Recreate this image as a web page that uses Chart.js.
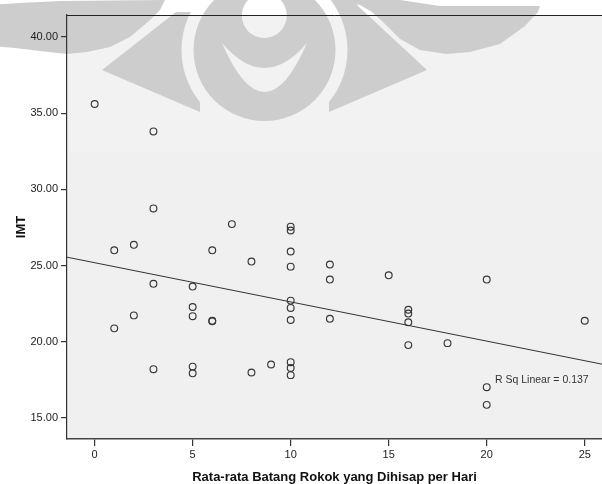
<!DOCTYPE html>
<html>
<head>
<meta charset="utf-8">
<script src="https://cdn.jsdelivr.net/npm/chart.js@4"></script>
<style>
  html, body { margin: 0; padding: 0; background: #ffffff; overflow: hidden; }
  #c { display: block; }
</style>
</head>
<body>
<canvas id="c" width="602" height="484"></canvas>
<script>
// ---- data ----
const cigarettes = [0, 3, 3, 7, 10, 10, 1, 2, 6, 8, 10, 10, 3, 5, 5, 5, 6, 6, 2, 1,
                    10, 10, 10, 3, 5, 5, 8, 9, 10, 10, 10, 12, 12, 12, 15, 16, 16, 16, 16, 18,
                    20, 20, 20, 25];
const imt = [35.6, 33.8, 28.75, 27.72, 27.55, 27.3, 26.0, 26.36, 26.0, 25.26, 25.92, 24.93, 23.8, 23.62, 22.28, 21.68, 21.38, 21.34, 21.73, 20.88,
             22.7, 22.22, 21.43, 18.2, 18.37, 17.93, 17.98, 18.51, 18.66, 18.28, 17.81, 25.07, 24.08, 21.51, 24.36, 22.1, 21.85, 21.28, 19.78, 19.91,
             24.08, 17.02, 15.86, 21.38];
const fitLineX = [-1.41, 25.88];
const fitLineY = [25.55, 18.53];
const xTickValues = [0, 5, 10, 15, 20, 25];
const yTickValues = [15, 20, 25, 30, 35, 40];
const xRange = [-1.41, 25.88];
const yRange = [13.62, 41.44];
const xTitle = 'Rata-rata Batang Rokok yang Dihisap per Hari';
const yTitle = 'IMT';
const rsqLabel = 'R Sq Linear = 0.137';
const rsqLabelAt = [20.42, 17.49];

// ---- build ----
const points = cigarettes.map((x, i) => ({ x: x, y: imt[i] }));
const fitLine = fitLineX.map((x, i) => ({ x: x, y: fitLineY[i] }));

Chart.defaults.font.family = "'Liberation Sans', Arial, sans-serif";
Chart.defaults.color = '#1a1a1a';

function poly(o, pts) {
  o.beginPath();
  o.moveTo(pts[0][0], pts[0][1]);
  for (let i = 1; i < pts.length; i++) o.lineTo(pts[i][0], pts[i][1]);
  o.closePath();
  o.fill();
}
function disk(o, x, y, r) {
  o.beginPath();
  o.arc(x, y, r, 0, Math.PI * 2);
  o.fill();
}

// background + faint watermark logo (decoration behind the chart)
const backdrop = {
  id: 'backdrop',
  beforeDraw(chart) {
    const ctx = chart.ctx;
    const a = chart.chartArea;
    ctx.save();
    ctx.fillStyle = '#ffffff';
    ctx.fillRect(0, 0, chart.width, chart.height);
    ctx.fillStyle = '#f0f0f0';
    ctx.fillRect(a.left, a.top, a.right - a.left, a.bottom - a.top);
    ctx.fillStyle = '#f2f2f2';
    ctx.fillRect(a.left, a.top, a.right - a.left, 137);

    const off = document.createElement('canvas');
    off.width = chart.width; off.height = chart.height;
    const o = off.getContext('2d');
    o.fillStyle = '#cdcdcd';
    // wings
    poly(o, [[-10, 5], [20, 3], [60, 1], [165, 0], [160, 10], [150, 20], [130, 37], [110, 47], [87, 52], [67, 54], [40, 51], [15, 48], [-10, 46]]);
    poly(o, [[340, 0], [400, 0], [440, 6], [540, 6], [538, 12], [525, 26], [500, 44], [470, 52], [446, 54], [420, 50], [400, 39], [383, 22], [372, 12], [360, 5]]);
    // triangles
    poly(o, [[102, 70], [176, 12], [200, 12], [200, 112]]);
    poly(o, [[427, 70], [358, 6], [354, 0], [329, 0], [329, 112]]);
    // gap ring
    o.globalCompositeOperation = 'destination-out';
    disk(o, 264.5, 50, 83);
    o.globalCompositeOperation = 'source-over';
    disk(o, 264.5, 50, 71);
    o.globalCompositeOperation = 'destination-out';
    disk(o, 264.3, 15.5, 22.5);
    o.beginPath();
    o.moveTo(222, 43);
    o.quadraticCurveTo(264.5, 141, 307, 43);
    o.quadraticCurveTo(264.5, 93, 222, 43);
    o.closePath();
    o.fill();
    o.globalCompositeOperation = 'source-over';
    ctx.drawImage(off, 0, 0);
    ctx.restore();
  }
};

const frame = {
  id: 'frame',
  afterDraw(chart) {
    const ctx = chart.ctx;
    const a = chart.chartArea;
    ctx.save();
    ctx.strokeStyle = '#222222';
    ctx.lineWidth = 1;
    ctx.beginPath();
    ctx.moveTo(a.left, a.top + 0.5);
    ctx.lineTo(a.right, a.top + 0.5);
    ctx.stroke();
    // R squared annotation
    const xs = chart.scales.x, ys = chart.scales.y;
    ctx.fillStyle = '#333333';
    ctx.font = "10.5px 'Liberation Sans', Arial, sans-serif";
    ctx.textAlign = 'left';
    ctx.textBaseline = 'middle';
    ctx.fillText(rsqLabel, xs.getPixelForValue(rsqLabelAt[0]), ys.getPixelForValue(rsqLabelAt[1]));
    ctx.restore();
  }
};

new Chart(document.getElementById('c'), {
  type: 'scatter',
  data: {
    datasets: [
      {
        type: 'scatter',
        data: points,
        pointStyle: 'circle',
        pointRadius: 3.4,
        pointHoverRadius: 3.4,
        pointBorderWidth: 1.15,
        pointBorderColor: '#363636',
        pointBackgroundColor: 'rgba(0,0,0,0)',
        order: 1
      },
      {
        type: 'line',
        data: fitLine,
        borderColor: '#333333',
        borderWidth: 1,
        pointRadius: 0,
        fill: false,
        order: 2
      }
    ]
  },
  options: {
    responsive: false,
    devicePixelRatio: 1,
    animation: false,
    layout: { autoPadding: false, padding: { top: 15, left: 0, right: 0, bottom: 0 } },
    plugins: { legend: { display: false }, tooltip: { enabled: false } },
    scales: {
      x: {
        type: 'linear',
        min: xRange[0],
        max: xRange[1],
        afterBuildTicks(s) { s.ticks = xTickValues.map(v => ({ value: v })); },
        afterFit(s) { s.height = 45; s.paddingRight = 0; s.paddingLeft = 0; },
        ticks: {
          font: { size: 11 },
          color: '#222222',
          padding: 2,
          maxRotation: 0,
          callback: v => String(v)
        },
        grid: { drawOnChartArea: false, drawTicks: true, tickLength: 7, color: '#333333', lineWidth: 1.2 },
        border: { display: true, color: '#444444', width: 1.6 },
        title: {
          display: true,
          text: xTitle,
          font: { size: 13, weight: 'bold', lineHeight: 1.0 },
          color: '#111111',
          padding: { top: 0, bottom: 0 }
        }
      },
      y: {
        type: 'linear',
        min: yRange[0],
        max: yRange[1],
        afterBuildTicks(s) { s.ticks = yTickValues.map(v => ({ value: v })); },
        afterFit(s) { s.width = 67; s.paddingTop = 0; s.paddingBottom = 0; },
        ticks: {
          font: { size: 11 },
          color: '#222222',
          padding: 3,
          callback: v => Number(v).toFixed(2)
        },
        grid: { drawOnChartArea: false, drawTicks: true, tickLength: 6, color: '#333333', lineWidth: 1.2 },
        border: { display: true, color: '#333333', width: 1.2 },
        title: {
          display: true,
          text: yTitle,
          font: { size: 13, weight: 'bold' },
          color: '#111111',
          padding: { top: 14, bottom: 0 }
        }
      }
    }
  },
  plugins: [backdrop, frame]
});
</script>
</body>
</html>
